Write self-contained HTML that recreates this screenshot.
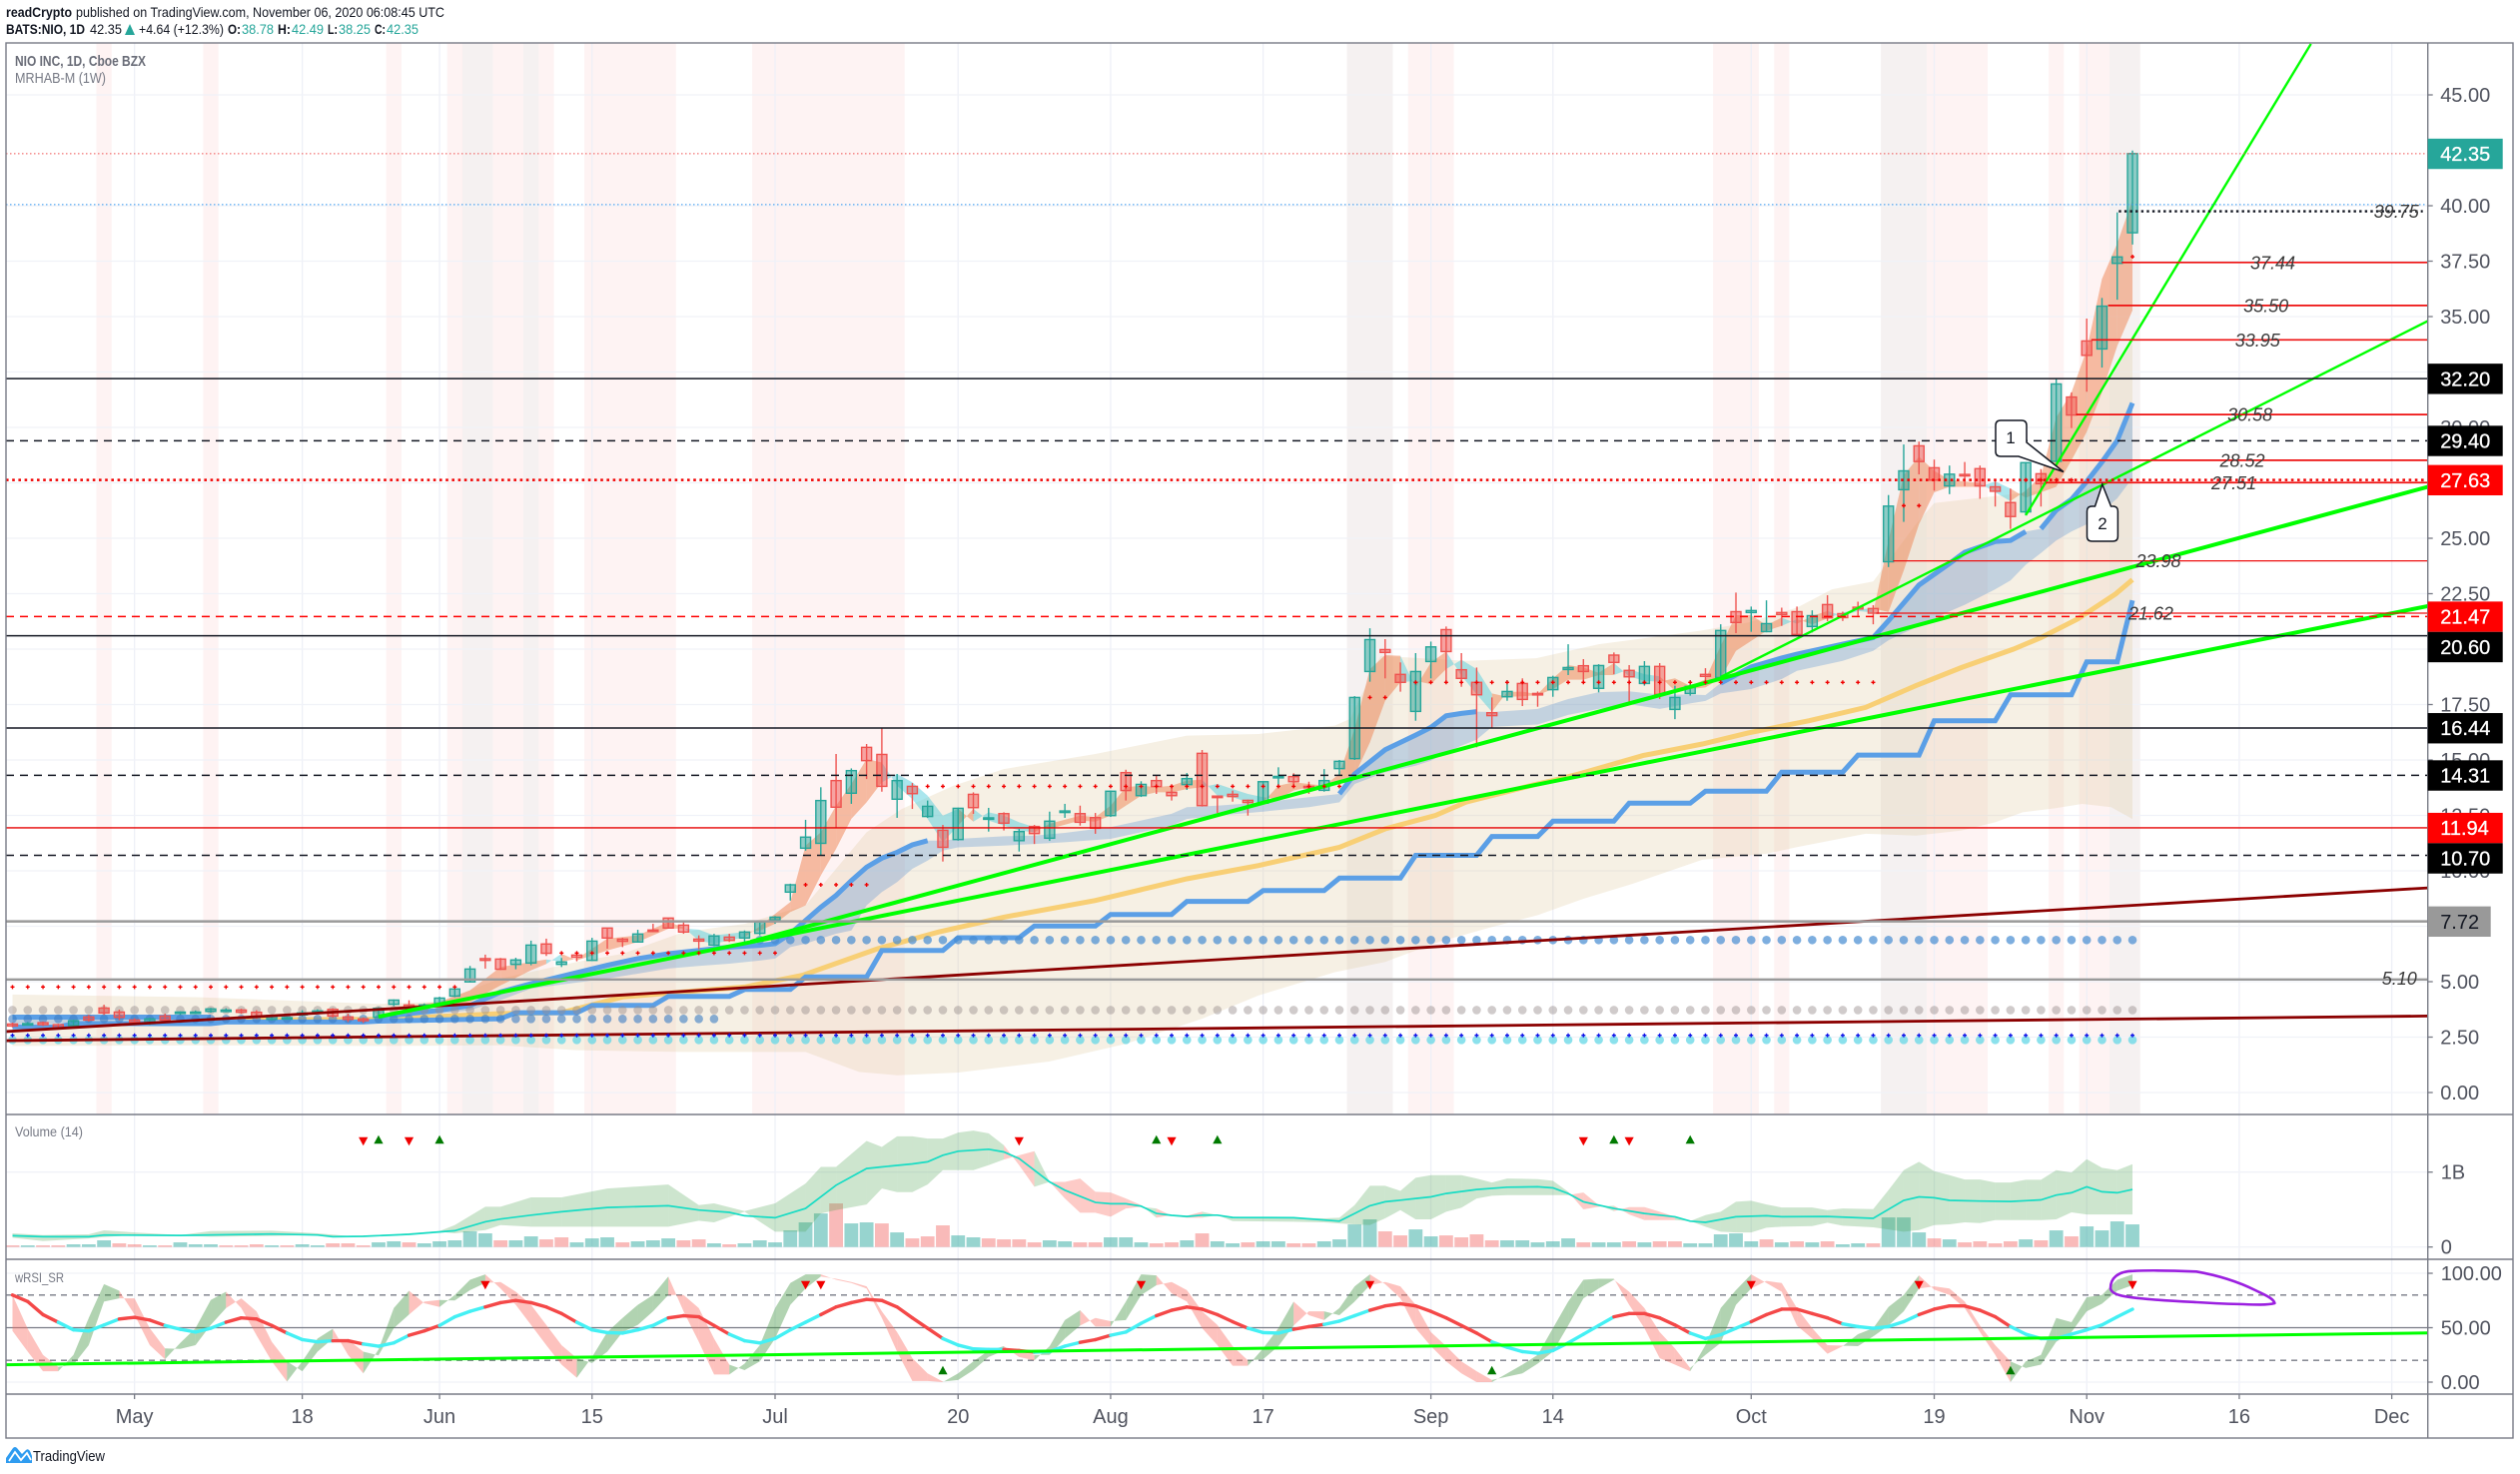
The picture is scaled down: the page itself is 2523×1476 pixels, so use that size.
<!DOCTYPE html>
<html lang="en">
<head>
<meta charset="utf-8">
<title>NIO INC, 1D, Cboe BZX</title>
<style>
html,body{margin:0;padding:0;background:#fff;width:2523px;height:1476px;overflow:hidden}
svg{display:block;font-family:"Liberation Sans",sans-serif}
</style>
</head>
<body>
<svg id="chart" xmlns="http://www.w3.org/2000/svg" width="2523" height="1476" viewBox="0 0 2523 1476">
  <defs>
    <clipPath id="clip-main"><rect x="6" y="43" width="2424.7" height="1073"/></clipPath>
    <clipPath id="clip-vol"><rect x="6" y="1116" width="2424.7" height="145"/></clipPath>
    <clipPath id="clip-rsi"><rect x="6" y="1261" width="2424.7" height="135"/></clipPath>
  </defs>
  <rect x="0" y="0" width="2523" height="1476" fill="#ffffff"/>

  <g font-size="14">
    <text x="6" y="17" font-weight="700" fill="#131722" textLength="66" lengthAdjust="spacingAndGlyphs">readCrypto</text>
    <text x="76" y="17" fill="#131722" textLength="369" lengthAdjust="spacingAndGlyphs">published on TradingView.com, November 06, 2020 06:08:45 UTC</text>
    <text x="6" y="34" font-weight="700" fill="#131722" textLength="79" lengthAdjust="spacingAndGlyphs">BATS:NIO, 1D</text>
    <text x="90" y="34" fill="#131722" textLength="32" lengthAdjust="spacingAndGlyphs">42.35</text>
    <polygon points="125,35 130,24 135,35" fill="#26a69a"/>
    <text x="139" y="34" fill="#131722" textLength="85" lengthAdjust="spacingAndGlyphs">+4.64 (+12.3%)</text>
    <text x="228" y="34" font-weight="700" fill="#131722" textLength="13" lengthAdjust="spacingAndGlyphs">O:</text>
    <text x="242" y="34" fill="#26a69a" textLength="32" lengthAdjust="spacingAndGlyphs">38.78</text>
    <text x="278" y="34" font-weight="700" fill="#131722" textLength="13" lengthAdjust="spacingAndGlyphs">H:</text>
    <text x="292" y="34" fill="#26a69a" textLength="32" lengthAdjust="spacingAndGlyphs">42.49</text>
    <text x="328" y="34" font-weight="700" fill="#131722" textLength="10" lengthAdjust="spacingAndGlyphs">L:</text>
    <text x="339" y="34" fill="#26a69a" textLength="32" lengthAdjust="spacingAndGlyphs">38.25</text>
    <text x="375" y="34" font-weight="700" fill="#131722" textLength="11" lengthAdjust="spacingAndGlyphs">C:</text>
    <text x="387" y="34" fill="#26a69a" textLength="32" lengthAdjust="spacingAndGlyphs">42.35</text>
  </g>

  <g id="g-bands" clip-path="url(#clip-main)"></g>
  <g id="g-grid"></g>

  <g clip-path="url(#clip-main)">
    <g id="g-envelope"></g>
    <g id="g-cloud"></g>
    <g id="g-ribbon"></g>
    <g id="g-ma"></g>
    <g id="g-dots"></g>
    <g id="g-candles"></g>
    <g id="g-trend"></g>
    <g id="g-levels"></g>
    <g id="g-plus"></g>
    <g>
      <path d="M2003,421 H2024 Q2029,421 2029,426 V443 L2066,472.5 L2021,457 H2003 Q1998,457 1998,452 V426 Q1998,421 2003,421 Z" fill="#ffffff" stroke="#131722" stroke-width="1.5"/>
      <text x="2013" y="444" font-size="17" text-anchor="middle" fill="#131722">1</text>
      <path d="M2104.8,485 L2113.5,507 H2115.4 Q2120.4,507 2120.4,512 V537 Q2120.4,542 2115.4,542 H2094.5 Q2089.5,542 2089.5,537 V512 Q2089.5,507 2094.5,507 H2097.5 Z" fill="#ffffff" stroke="#131722" stroke-width="1.5"/>
      <text x="2105" y="530" font-size="17" text-anchor="middle" fill="#131722">2</text>
    </g>
  </g>

  <g clip-path="url(#clip-vol)">
    <g id="g-volbars"></g>
    <g id="g-volband"></g>
    <g id="g-volma"></g>
    <g id="g-volsig"></g>
  </g>

  <g clip-path="url(#clip-rsi)">
    <g id="g-rsiref"></g>
    <g id="g-rsiband"></g>
    <g id="g-rsiline"></g>
    <g id="g-rsitrend"></g>
    <g id="g-rsisig"></g>
    <path d="M2113,1290 C2113,1280 2120,1273 2136,1272.7 C2150,1272 2180,1272.5 2199,1273.3 C2220,1277 2240,1283 2258,1292 C2268,1297 2276,1300 2277.4,1305 C2270,1307 2258,1306.5 2246,1306 C2230,1305.8 2215,1305 2199,1304 C2180,1303 2160,1302 2141,1300 C2128,1298.5 2114,1297 2113,1290 Z" fill="none" stroke="#9b1fe0" stroke-width="2.6" stroke-linejoin="round"/>
  </g>

  <g>
    <text x="15" y="66" font-size="15" font-weight="700" fill="#6a6d78" textLength="131" lengthAdjust="spacingAndGlyphs">NIO INC, 1D, Cboe BZX</text>
    <text x="15" y="83" font-size="15" fill="#787b86" textLength="91" lengthAdjust="spacingAndGlyphs">MRHAB-M (1W)</text>
    <text x="15" y="1138" font-size="14" fill="#787b86" textLength="68" lengthAdjust="spacingAndGlyphs">Volume (14)</text>
    <text x="15" y="1284" font-size="14" fill="#787b86" textLength="49" lengthAdjust="spacingAndGlyphs">wRSI_SR</text>
  </g>

  <g stroke="#787b86" stroke-width="1.4" fill="none">
    <rect x="6" y="43" width="2510" height="1397"/>
    <line x1="6" y1="1116" x2="2516" y2="1116"/>
    <line x1="6" y1="1261" x2="2516" y2="1261"/>
    <line x1="6" y1="1396" x2="2516" y2="1396"/>
    <line x1="2430.7" y1="43" x2="2430.7" y2="1440"/>
  </g>

  <g id="g-xaxis"></g>
  <g id="g-yaxis"></g>
  <g id="g-voly"></g>
  <g id="g-rsiy"></g>
  <g id="g-labels"></g>

  <g>
    <path d="M6,1465 L6,1460 L13,1450 Q15,1448 17,1450 L22,1456 L26,1452 Q28,1450 30,1453 L32,1458 L32,1465 Z" fill="#2f9cf0"/>
    <polyline points="9,1463 15,1454 21,1462 27,1455 31,1462" fill="none" stroke="#ffffff" stroke-width="1.8"/>
    <text x="33" y="1463" font-size="15" fill="#131722" textLength="72" lengthAdjust="spacingAndGlyphs">TradingView</text>
  </g>
</svg>

<script>
/* ---------- chart data ---------- */
const opens=[3.09,3.09,3.15,3.06,3.02,3.41,3.81,3.63,3.27,3.11,
3.45,3.57,3.62,3.66,3.70,3.72,3.62,3.30,3.35,3.50,
3.63,3.75,3.41,3.32,3.39,3.98,3.95,3.81,4.01,4.35,
4.99,6.04,6.02,5.78,5.84,6.70,5.78,6.20,5.96,7.42,
6.92,6.79,7.33,7.87,7.55,6.92,6.65,7.01,6.97,7.18,
7.78,9.04,11.02,11.24,14.07,13.50,15.57,15.25,13.23,13.81,
12.45,11.83,11.41,13.45,12.36,12.58,11.36,12.00,11.47,12.63,
12.58,12.40,12.49,14.43,13.39,14.07,13.54,13.89,15.30,13.37,
13.45,13.18,13.05,14.20,14.25,13.81,13.63,14.61,15.06,18.99,
19.98,18.86,17.19,19.44,20.88,19.07,18.50,17.13,17.85,18.45,
18.00,18.17,19.08,19.25,18.23,19.73,19.04,18.45,19.22,17.28,
18.00,18.86,18.72,21.69,21.65,20.79,21.65,21.69,21.02,22.01,
21.60,21.89,21.83,23.94,27.19,29.17,28.18,27.36,27.88,28.14,
27.32,26.61,26.19,27.91,28.47,31.37,33.90,33.54,37.40,38.78];
const highs=[3.15,3.18,3.20,3.10,3.28,3.50,3.96,3.74,3.35,3.38,
3.56,3.66,3.70,3.82,3.80,3.78,3.71,3.52,3.42,3.71,
3.75,3.80,3.56,3.38,3.85,4.20,4.16,4.02,4.32,4.72,
5.71,6.22,6.07,6.08,6.85,6.94,6.07,6.26,6.98,7.42,
6.98,7.34,7.61,7.87,7.69,7.09,7.16,7.16,7.31,7.76,
7.96,9.42,12.30,13.77,15.27,14.62,15.72,16.43,14.37,13.96,
13.17,12.07,12.85,13.54,12.84,12.64,11.89,12.07,12.67,13.02,
12.94,12.61,13.62,14.56,14.04,14.32,13.77,14.41,15.45,13.39,
13.62,13.21,14.05,14.67,14.40,14.02,14.59,15.00,17.88,20.94,
20.45,19.40,19.82,20.34,21.02,19.82,19.17,17.82,18.60,18.68,
18.09,18.80,20.22,19.55,19.32,19.85,19.28,19.46,19.37,18.35,
18.60,19.14,21.12,22.55,21.92,22.20,21.87,21.92,21.75,22.43,
21.69,22.14,21.98,26.95,29.23,29.36,28.55,28.28,28.44,28.28,
27.64,27.24,28.44,28.12,32.19,31.58,34.91,35.84,39.70,42.49];
const lows=[2.94,3.02,3.00,2.86,2.95,3.20,3.50,3.26,3.05,3.05,
3.18,3.50,3.55,3.60,3.62,3.55,3.33,3.25,3.30,3.43,
3.58,3.38,3.18,3.14,3.36,3.90,3.76,3.76,3.96,4.30,
4.97,5.59,5.53,5.56,5.74,6.16,5.66,5.92,5.93,6.49,
6.56,6.76,7.24,7.39,7.16,6.46,6.61,6.79,6.76,7.09,
7.61,8.66,10.91,10.69,11.92,13.02,14.14,13.57,12.39,12.79,
12.39,10.42,11.36,12.57,11.77,11.82,10.87,11.21,11.35,12.39,
12.04,11.67,12.43,13.17,13.33,13.47,13.17,13.65,12.90,12.61,
13.12,12.49,13.02,13.77,13.77,13.47,13.57,14.29,15.00,18.53,
18.68,18.08,16.77,18.68,18.50,18.30,15.57,16.44,17.67,17.43,
17.40,17.85,18.83,18.47,18.05,18.87,17.59,18.35,17.75,16.84,
17.90,18.38,18.68,20.72,20.78,20.76,21.05,20.60,20.75,21.26,
21.27,21.50,21.12,23.70,25.74,27.88,27.15,26.99,27.35,26.78,
26.43,25.42,26.03,26.43,28.44,29.97,31.61,32.70,35.76,38.25];
const closes=[3.00,3.11,3.06,2.91,3.24,3.27,3.59,3.39,3.17,3.32,
3.27,3.63,3.63,3.77,3.72,3.62,3.44,3.47,3.38,3.59,
3.68,3.45,3.30,3.24,3.80,4.17,3.81,3.95,4.26,4.67,
5.57,5.96,5.56,5.98,6.65,6.28,5.89,6.10,6.83,6.97,
6.82,7.15,7.28,7.42,7.24,6.83,7.06,6.86,7.24,7.69,
7.91,9.37,11.52,13.17,12.87,14.52,14.97,13.81,14.07,13.48,
12.91,11.06,12.82,12.85,12.39,12.15,11.77,11.68,12.24,12.70,
12.19,11.92,13.59,13.62,13.90,13.80,13.39,14.16,12.94,13.33,
13.35,13.08,14.02,14.26,14.02,13.75,14.07,14.94,17.82,20.43,
19.85,18.50,18.99,20.10,19.89,18.68,17.94,17.00,18.09,17.73,
17.94,18.72,19.17,18.99,19.26,19.40,18.75,19.22,17.96,17.82,
18.32,18.77,20.84,21.20,21.74,21.15,21.56,20.66,21.51,21.41,
21.42,21.81,21.62,26.45,28.04,28.46,27.62,27.89,27.81,27.36,
27.12,25.98,28.41,27.46,31.96,30.56,33.25,35.47,37.69,42.35];

const volumes=[22,22,22,22,36,36,89,49,36,22,
22,62,36,36,22,22,36,22,22,36,
22,49,49,22,62,76,62,49,76,89,
209,182,89,89,142,102,129,62,115,129,
62,76,89,115,89,102,49,36,49,89,
62,222,329,448,582,315,329,315,195,115,
142,289,155,129,115,102,102,62,89,76,
62,62,129,129,62,49,62,89,182,76,
49,62,76,76,49,49,76,102,302,369,
209,155,235,142,155,129,169,89,89,89,
62,76,115,62,62,62,76,62,76,76,
49,49,169,182,76,102,62,76,62,76,
36,49,49,395,395,195,115,102,62,76,
49,76,102,89,222,142,275,222,342,302];
const volDir=[-1,1,-1,-1,1,1,1,-1,-1,1,
-1,1,1,1,-1,-1,-1,1,-1,1,
1,-1,-1,-1,1,1,-1,1,1,1,
1,1,-1,1,1,-1,-1,1,1,1,
-1,1,1,1,-1,-1,1,-1,1,1,
1,1,1,1,-1,1,1,-1,1,-1,
-1,-1,1,1,-1,-1,-1,-1,1,1,
-1,-1,1,1,1,-1,-1,1,-1,1,
1,-1,1,1,-1,-1,1,1,1,1,
-1,-1,1,1,-1,-1,-1,-1,1,1,
1,1,1,-1,1,1,-1,1,-1,-1,
1,1,1,1,1,-1,1,-1,1,-1,
1,1,-1,1,1,1,-1,1,-1,-1,
-1,-1,1,-1,1,-1,1,1,1,1];

const volBandBars=[0,2,5,6,8,11,13,17,20,22,25,28,29,31,32,34,36,39,43,45,46,48,50,52,53,54,56,57,58,59,60,61,62,63,64,65,66,67,68,69,70,71,72,73,74,75,76,77,78,79,80,84,86,87,88,89,90,91,92,93,94,95,96,97,98,100,101,102,103,104,105,106,107,108,109,110,111,112,113,114,115,116,118,119,120,122,123,124,125,126,127,128,129,130,131,132,133,134,135,136,137,138,139];
const volFast=[182,160,169,222,195,160,213,218,182,147,169,213,293,537,537,662,662,781,835,559,582,480,582,848,1070,1070,1416,1336,1478,1478,1447,1447,1527,1554,1518,1359,1092,804,870,648,457,457,404,515,537,515,417,391,391,426,404,391,382,391,559,817,817,750,924,959,959,959,915,861,915,906,884,737,502,537,551,435,360,360,360,346,426,471,604,617,568,528,528,493,515,506,759,1026,1137,1012,959,901,901,861,861,897,897,1026,995,1172,1057,1026,1106];
const volSlow=[124,80,115,133,160,151,138,147,160,138,151,204,182,226,293,271,271,271,271,351,329,471,204,204,448,493,568,781,733,733,835,1026,1026,1026,1092,1168,1225,1279,870,870,915,737,728,648,559,391,426,417,471,426,346,337,329,315,302,293,382,493,369,369,471,524,648,684,693,693,693,693,728,559,480,533,533,471,404,346,271,204,195,195,258,271,280,324,284,262,235,204,226,293,302,329,320,360,360,360,360,369,462,435,435,435,435];
const volMaBars=[0,2,5,6,11,17,20,21,23,26,29,31,32,34,36,39,43,45,47,48,50,52,54,56,57,59,60,61,62,64,65,66,67,68,69,71,72,73,74,75,76,77,78,79,80,84,87,88,89,90,91,92,93,94,96,98,100,101,102,103,105,107,109,110,111,113,115,116,119,122,124,125,126,127,129,131,133,134,135,136,137,138,139];
const volMa=[151,138,138,160,155,173,160,138,142,169,218,337,373,426,471,528,551,493,462,417,391,515,826,1048,1070,1110,1137,1225,1279,1305,1270,1181,1026,870,759,595,577,577,546,448,422,408,426,426,395,391,346,448,551,604,626,648,670,715,768,799,804,790,715,604,515,448,404,346,329,404,417,404,408,382,622,670,657,622,613,608,630,693,724,804,737,724,768];

const rsiFast=[47,28,10,10,25,59,90,84,62,34,21,36,49.5,75.5,83,68,43,19,0.5,19,40,49,25,8,30,68,84,72.5,69,80,94,99,86,71,52.5,34,16,4,23,46,59,71,80,97,65,37,7,7,17,34,68,91,99,99,94,91,86,59,28,1,1,0,8,19,29,33,23,20,33,57,66,51,51,74,99,98,81.5,74,49.5,34,15,15,31,49.5,74,61.5,57,68,88,99,90,77,49.5,33,19,8,0,0,8,16,25,49.5,74,94,95,95,71,49.5,22,16,10,34,68,84.5,99,91,83,52,40,26,33,44,49.5,69,80,98,85,80,68,46,25,0,19,25,59,55,78,80,94,99];
const rsiSlow=[80,49,25,14,16,34,74,77,77,49.5,31,30.5,34,52.5,68,77,65,37,19,10,28,40,39,28,24.5,49.5,62,74,75.5,75,84.5,91,92,83,71,52.5,34,22,17.5,28,46,52.5,65,80,80,68,40,16,11,19,40,71,86,97,95,92,88,65,46,22,8,0.5,2,11,23,29,28,25,25,40,52,59,56,57,80,89,92,84.5,65,52.5,33,20,21,33,52,65,65,61.5,74,89,92,88,71,46,33,19,10,2,5,8,17,28,52,77,86,94,83,68,46,31,13,25,36,71,86,93,91,68,49.5,34,33.5,33,42,52,65,86,88,86,74,52,34,19,13,16,37,46,65,72,84,89];
const rsiSmooth=[80,74,62,55,48,47,52.5,58,59.5,57,
52,48.5,46,49.5,55,59,58,52,45,39,
37,38,38,35,33,36,43,47,52,60,
65,69,73,75,73,69,63,55,48,45.5,
45,48,52,59,61,60,52,44,38,36,
40,48,55,62,69,73,76,75,69,59,
49.5,40,34,30.5,30,30,29,27.5,28,33,
36.5,39,43,46,54,61,66,69,67,62,
55.5,49.5,45.5,45,48.5,51,53,56,61,66,
70,72,70,65,59,52,45,37,32,28,
26.5,29,36,44,52,60,63,63,59,52.5,
45,40,43.5,49.5,55.5,62,67,67,63,59,
53.5,51,49.5,51,55.5,62,67,70,70,66,
60,51,44,40,40,44,48,52.5,60,67];
const rsiRedStarts=[0,7,14,21,26,31,43,53,65,70,75,84,89,105,114,125];
const rsiRedEnds=[3,10,18,23,28,37,47,61,67,72,81,86,97,110,120,131];
const rsiSellBars=[31,52,53,74,89,114,125,139];
const rsiBuyBars=[61,97,131];
const volSellBars=[23,26,66,76,103,106];
const volBuyBars=[24,28,75,79,105,110];

const cloudBars=[25,28,30,32,34,35,36,37,39,41,43,44,45,46,48,49,50,51,52,53,54,55,56,57,58,59,60,61,62,63,64,65,66,67,68,70,71,72,73,74,75,76,77,78,79,80,81,82,83,84,85,86,87,88,89,90,91,92,93,94,95,96,97,98,99,100,101,102,103,104,105,106,107,108,109,110,111,112,113,114,115,116,117,118,119,120,121,122,123,124,125,126,127,128,129,130,131,132,133,134,135,136,137,138,139];
const cloudFast=[3.86,4.08,4.61,5.66,5.89,6.0,5.9,6.03,6.94,7.09,7.69,7.45,6.85,6.71,7.01,7.5,8.06,8.59,11.14,11.74,12.94,13.92,15.04,14.89,13.84,13.24,12.34,11.29,12.04,12.79,12.27,12.04,11.82,11.74,12.12,12.49,12.42,12.94,13.77,13.84,13.77,13.84,14.07,14.11,13.39,13.32,13.09,13.09,13.84,13.99,13.92,13.84,14.37,16.4,19.1,19.73,19.7,18.27,19.4,19.89,18.8,17.97,17.17,18.07,18.08,17.97,18.68,19.28,19.17,18.93,19.37,18.77,18.57,18.53,18.68,18.34,18.64,20.15,21.53,21.53,21.08,21.42,21.14,21.5,21.72,21.5,21.72,21.65,24.9,27.85,28.68,28.04,27.64,27.56,27.48,27.07,26.67,27.15,27.8,30.45,31.58,33.5,36.7,38.3,40.27];
const cloudSlow=[3.75,3.86,4.08,4.83,5.51,5.8,6.26,5.96,6.41,6.79,7.39,7.4,7.35,7.09,7.24,7.3,7.61,8.14,8.44,9.79,10.99,12.34,13.09,13.99,14.37,13.99,13.39,12.49,12.79,12.22,12.64,12.49,12.19,11.97,11.89,12.27,12.22,12.49,12.94,13.39,13.54,13.54,13.69,13.77,13.92,13.69,13.47,13.32,13.24,13.62,13.77,13.69,13.99,14.3,15.79,17.67,18.5,18.57,18.42,19.1,19.52,19.1,18.0,17.85,17.87,17.93,18.2,18.62,18.62,18.83,18.83,19.1,18.87,18.77,18.12,18.2,18.27,18.68,19.92,20.37,20.82,21.05,21.35,21.12,21.38,21.65,21.8,21.83,21.68,23.54,25.63,27.07,27.32,27.32,27.32,27.56,27.24,26.83,27.07,27.32,28.52,29.8,31.58,33.67,35.28];

const ribbonBars=[0,13,24,28,30,32,34,39,41,43,45,47,49,50,51,52,53,54,55,56,57,58,59,60,61,62,65,67,69,72,74,76,77,79,82,85,87,88,90,92,93,94,95,96,97,100,102,104,106,108,110,111,112,114,116,117,120,122,123,125,127,128,130,131,132,133,134,135,136,137,138,139];
const ribbonTop=[3.4,3.4,3.41,3.71,3.93,4.53,4.91,5.74,6.04,6.26,6.41,6.56,6.64,6.71,7.16,7.76,8.36,8.89,9.56,10.16,10.57,10.84,11.17,11.36,11.36,11.44,11.56,11.59,11.71,11.97,12.27,12.57,12.87,12.94,13.09,13.32,13.47,14.37,15.46,16.12,16.47,16.99,17.1,17.18,17.16,17.3,17.75,18.06,18.1,17.95,17.95,17.93,18.47,19.2,19.6,19.77,20.22,20.52,21.28,22.89,23.86,24.37,24.85,24.9,25.3,25.43,26.27,26.75,27.56,28.44,29.41,31.1];
const ribbonBottom=[3.1,3.15,3.3,3.56,3.71,4.16,4.69,5.14,5.36,5.59,5.71,5.81,5.95,6.04,6.56,6.71,6.94,7.16,7.31,8.44,9.04,9.49,10.09,10.46,10.91,11.06,11.14,11.21,11.29,11.44,11.74,12.04,12.34,12.49,12.67,12.87,13.09,13.92,14.44,14.74,14.97,15.34,15.64,15.92,16.49,16.6,17.03,17.3,17.52,17.3,17.55,17.66,18.0,18.2,18.65,19.02,19.47,19.92,20.4,21.05,21.7,22.0,22.7,23.1,23.8,24.34,24.9,25.3,25.63,26.2,26.8,27.72];
const ribbonLineStarts=[0,24,87,112,133];
const ribbonLineEnds=[13,60,96,132,139];

const envUpperBars=[0,12,24,28,32,37,40,44,48,52,56,58.3,61.7,65,71,77,81.7,86.7,87.7,89.7,95.3,99.9,104,110.6,113.8,117,119.3,122,124.8,126,130,133,134,137,139];
const envUpper=[4.42,4.3,4.0,4.1,5.14,5.89,6.26,7.24,7.61,8.44,11.74,12.79,13.84,14.59,15.27,16.1,16.17,16.55,16.85,19.7,19.47,19.59,20.22,20.82,21.2,21.87,22.7,23.05,25.63,26.59,26.9,27.15,28.52,31.58,33.83];
const envLowerBars=[0,12,24,32,37,44,52,55.5,58,62,68,73,78,81.7,86.7,90,93.5,97,100,103,106.2,110.8,115,117,121.5,124.8,127.8,130,131.8,133.9,135.7,137.6,139];
const envLower=[2.1,2.13,2.1,2.13,1.91,1.83,1.83,0.93,0.78,0.9,1.4,2.2,3.33,4.38,5.43,5.89,6.79,7.47,8.0,8.74,9.41,10.5,10.77,11.07,11.67,11.59,11.82,12.19,12.64,12.82,13.02,12.87,12.34];

const emaSlowBars=[13,24,32,36,40,44,48,51.8,56.7,60.7,65,71,77,81.7,87,90,93.3,95.3,99.7,101,102.7,106.9,110.8,113.8,117.8,121.5,124.8,127.8,131.2,133,135.4,137.9,139];
const emaSlowVals=[3.26,3.3,3.56,3.6,4.31,4.54,4.76,5.29,6.48,7.24,7.91,8.66,9.64,10.24,11.06,11.89,12.5,13.1,13.87,14.07,14.37,15.2,15.72,16.22,16.77,17.37,18.35,19.17,20.0,20.52,21.36,22.49,23.13];
const weeklyBars=[0,3,4,13,14,23,24,32,33,37,38,42,43,47,48,51,52,56,57,61,62,66,67,71,72,76,77,81,82,86,87,91,92,96,97,100,101,105,106,110,111,115,116,120,121,125,126,130,131,135,136,138,139];
const weeklyVals=[2.96,2.96,3.11,3.11,3.18,3.18,3.22,3.33,3.6,3.6,3.93,3.93,4.34,4.34,4.65,4.65,5.21,5.21,6.41,6.41,6.98,6.98,7.51,7.51,8.03,8.03,8.62,8.62,9.11,9.11,9.67,9.67,10.7,10.7,11.55,11.55,12.24,12.24,13.05,13.05,13.59,13.59,14.45,14.45,15.22,15.22,16.77,16.77,17.94,17.94,19.43,19.43,22.2];

const dotLevels=[6.88,3.72,3.32,2.37];
const dotStartBars=[49,0,0,0];
const dotEndBars=[139,139,46,139];
const bluePlusLevel=2.58;
const stopPrices=[4.76,6.29,9.37,13.81,17.82,18.5,26.47,27.63,37.7];
const stopStartBars=[0,36,52,60,89,92,124,132,139];
const stopEndBars=[29,50,56,87,90,122,125,135,139];

const trendStartBars=[24,48.4,112,132];
const trendStartPrices=[3.42,6.8,18.74,26.04];
const trendEndBars=[158.36,158.36,158.36,150.7];
const trendEndPrices=[21.94,27.32,34.8,47.3];
const longStartBars=[-0.43,-0.43];
const longStartPrices=[2.75,2.34];
const longEndBars=[158.36,158.36];
const longEndPrices=[9.23,3.45];
const rsiTrendBars=[-0.43,158.36];
const rsiTrendVals=[15.9,45.2];

const levelPrices=[42.35,40.05,32.20,29.40,27.63,21.47,20.60,16.44,14.31,11.94,10.70,7.72,5.10];
const levelKinds=['thinRedDot','thinBlueDot','black','blackDash','redDot','redDash','black','black','blackDash','red','blackDash','grey','grey'];
const priceLabels=[42.35,32.20,29.40,27.63,21.47,20.60,16.44,14.31,11.94,10.70,7.72];
const priceLabelKinds=['teal','black','black','red','red','black','black','black','red','black','grey'];
const segmentPrices=[37.44,35.50,33.95,30.58,28.52,27.51,23.98,21.62];
const segmentStartBars=[138.3,137.4,136.3,135.3,134.4,133.3,123.3,122.2];
const segmentLabelBars=[148.2,147.75,147.2,146.7,146.2,145.65,140.7,140.2];
const targetPrice=39.75, targetStartBar=138.1, targetLabelBar=156.3;
const baseLabelPrice=5.10, baseLabelBar=156.5;

const bandStartBars=[6,13,25,29,38,49,88,92,112,116,123,134,136];
const bandEndBars=[6,13,25,35,43,58,90,94,114,116,129,134,139];
const greyStartBars=[30,34,88,123,138];
const greyEndBars=[31,34,90,125,139];

const timeTickBars=[8,19,28,38,50,62,72,82,93,101,114,126,136,146,156];
const timeTickLabels=['May','18','Jun','15','Jul','20','Aug','17','Sep','14','Oct','19','Nov','16','Dec'];
const priceTicks=[45,40,37.5,35,32.5,30,27.5,25,22.5,20,17.5,15,12.5,10,7.5,5,2.5,0];
const volTicks=[1000,0];
const volTickLabels=['1B','0'];
const rsiTicks=[100,50,0];
const rsiDashed=[80,20];

/* ---------- axis functions ---------- */
const barStep=15.27;
const axisX=2430.7;
function xBar(i){return 12.5+i*barStep;}
function yPrice(p){return 1094-p*22.2;}
function yVol(v){return 1248.7-v*0.075;}
function yRsi(r){return 1384-r*1.09;}

const NS='http://www.w3.org/2000/svg';
function mk(tag,parent,attrs){
  const e=document.createElementNS(NS,tag);
  for(const k in attrs){e.setAttribute(k,attrs[k]);}
  parent.appendChild(e);
  return e;
}
const $=id=>document.getElementById(id);
function pts(xs,ys,fx,fy){return xs.map((x,i)=>fx(x).toFixed(1)+','+fy(ys[i]).toFixed(1)).join(' ');}

/* highlight bands */
bandStartBars.forEach((s,k)=>{
  const r=mk('rect',$('g-bands'),{x:xBar(s)-barStep/2,y:43,width:(bandEndBars[k]-s+1)*barStep,height:1073,fill:'rgba(240,40,30,0.055)'});
  
  
});
greyStartBars.forEach((s,k)=>{
  const r=mk('rect',$('g-bands'),{x:xBar(s)-barStep/2,y:43,width:(greyEndBars[k]-s+1)*barStep,height:1073,fill:'#f5f1f1'});
  
  
});

/* grid */
timeTickBars.forEach(b=>{
  const l=mk('line',$('g-grid'),{x1:xBar(b),x2:xBar(b),y1:43,y2:1396,stroke:'#eef0f7','stroke-width':1.3});
  
  
});
priceTicks.forEach(p=>{
  const l=mk('line',$('g-grid'),{x1:6,x2:axisX,y1:yPrice(p),y2:yPrice(p),stroke:'#f0f2f8','stroke-width':1.3});
  
  
});
volTicks.forEach(v=>{
  const l=mk('line',$('g-grid'),{x1:6,x2:axisX,y1:yVol(v),y2:yVol(v),stroke:'#f0f2f8','stroke-width':1.3});
  
  
});
[100,0].forEach(v=>{
  const l=mk('line',$('g-grid'),{x1:6,x2:axisX,y1:yRsi(v),y2:yRsi(v),stroke:'#f0f2f8','stroke-width':1.3});
  
  
});

/* envelope */
{
  const up=pts(envUpperBars,envUpper,xBar,yPrice);
  const lo=envLowerBars.slice().reverse().map((b,i)=>xBar(b).toFixed(1)+','+yPrice(envLower[envLower.length-1-i]).toFixed(1)).join(' ');
  const e=mk('polygon',$('g-envelope'),{points:up+' '+lo,fill:'rgba(223,199,155,0.27)'});
  
  
}

/* ribbon helper: one quad per segment, coloured by which series leads */
function quads(group,bars,a,b,fy,upFill,dnFill,name){
  for(let i=0;i<bars.length-1;i++){
    const x0=xBar(bars[i]),x1=xBar(bars[i+1]);
    const up=a[i+1]>=b[i+1];
    const q=mk('polygon',group,{points:[x0+','+fy(a[i]),x1+','+fy(a[i+1]),x1+','+fy(b[i+1]),x0+','+fy(b[i])].join(' '),fill:up?upFill:dnFill});
    
    
  }
}

/* EMA cloud */
quads($('g-cloud'),cloudBars,cloudFast,cloudSlow,yPrice,'rgba(238,130,80,0.5)','rgba(85,205,222,0.5)','cloud-segment');

/* blue ribbon */
{
  const up=pts(ribbonBars,ribbonTop,xBar,yPrice);
  const lo=ribbonBars.slice().reverse().map((b,i)=>xBar(b).toFixed(1)+','+yPrice(ribbonBottom[ribbonBottom.length-1-i]).toFixed(1)).join(' ');
  const f=mk('polygon',$('g-ribbon'),{points:up+' '+lo,fill:'rgba(60,130,210,0.27)'});
  
  
}

/* moving averages */
{
  const o=mk('polyline',$('g-ma'),{points:pts(emaSlowBars,emaSlowVals,xBar,yPrice),fill:'none',stroke:'#f8cf75','stroke-width':5});
  
  
  const w=mk('polyline',$('g-ma'),{points:pts(weeklyBars,weeklyVals,xBar,yPrice),fill:'none',stroke:'#5b9fe6','stroke-width':5});
  
  
  ribbonLineStarts.forEach((s,k)=>{
    const xs=[],ys=[];
    ribbonBars.forEach((b,i)=>{if(b>=s&&b<=ribbonLineEnds[k]){xs.push(b);ys.push(ribbonTop[i]);}});
    const l=mk('polyline',$('g-ma'),{points:pts(xs,ys,xBar,yPrice),fill:'none',stroke:'#5b9fe6','stroke-width':5});
    
    
  });
}

/* dots */
const dotFills=['rgba(70,140,210,0.7)','rgba(150,140,140,0.45)','rgba(60,125,195,0.6)','rgba(100,215,230,0.75)'];
dotLevels.forEach((lv,k)=>{
  for(let i=dotStartBars[k];i<=dotEndBars[k];i++){
    const c=mk('circle',$('g-dots'),{cx:xBar(i),cy:yPrice(lv),r:4.3,fill:dotFills[k]});
    
    
  }
});
function plus(group,x,y,color,name){
  const p=mk('path',group,{d:'M'+(x-2)+','+y+'H'+(x+2)+'M'+x+','+(y-2)+'V'+(y+2),stroke:color,'stroke-width':1.4,fill:'none'});
  
  
}
for(let i=0;i<140;i++){plus($('g-plus'),xBar(i),yPrice(bluePlusLevel),'#1212e8','blue-plus-marker');}

/* candles */
opens.forEach((o,i)=>{
  const c=closes[i],up=c>=o,col=up?'#26a69a':'#ef5350',x=xBar(i);
  const w=mk('line',$('g-candles'),{x1:x,x2:x,y1:yPrice(highs[i]),y2:yPrice(lows[i]),stroke:col,'stroke-width':1.4});
  
  
  const top=yPrice(Math.max(o,c)),bot=yPrice(Math.min(o,c));
  const b=mk('rect',$('g-candles'),{x:x-5,y:top,width:10,height:Math.max(bot-top,1.5),fill:up?'rgba(38,166,154,0.5)':'rgba(239,83,80,0.5)',stroke:col,'stroke-width':1.4});
  
  
});

/* long dark-red lines */
longStartBars.forEach((s,k)=>{
  const l=mk('line',$('g-trend'),{x1:xBar(s),y1:yPrice(longStartPrices[k]),x2:xBar(longEndBars[k]),y2:yPrice(longEndPrices[k]),stroke:'#8b0000','stroke-width':2.8});
  
  
});
/* green trend lines */
const trendWidths=[4,4,2.4,2.4];
trendStartBars.forEach((s,k)=>{
  const l=mk('line',$('g-trend'),{x1:xBar(s),y1:yPrice(trendStartPrices[k]),x2:xBar(trendEndBars[k]),y2:yPrice(trendEndPrices[k]),stroke:'#00ff00','stroke-width':trendWidths[k]});
  
  
});

/* horizontal levels */
const levelStyle={
  black:{stroke:'#131722',w:1.5},
  blackDash:{stroke:'#131722',w:1.5,dash:'8 6'},
  red:{stroke:'#e60000',w:1.4},
  redDash:{stroke:'#ff0000',w:1.5,dash:'8 6'},
  redDot:{stroke:'#f00000',w:2.6,dash:'2.6 3.6'},
  thinRedDot:{stroke:'#f05050',w:1,dash:'1.5 2.5'},
  thinBlueDot:{stroke:'#2f95f0',w:1,dash:'1.5 2.5'},
  grey:{stroke:'#9a9a9a',w:2.4}
};
levelPrices.forEach((p,k)=>{
  const s=levelStyle[levelKinds[k]];
  const a={x1:6,x2:axisX,y1:yPrice(p),y2:yPrice(p),stroke:s.stroke,'stroke-width':s.w};
  if(s.dash){a['stroke-dasharray']=s.dash;}
  const l=mk('line',$('g-levels'),a);
  
  
});
segmentPrices.forEach((p,k)=>{
  const l=mk('line',$('g-levels'),{x1:xBar(segmentStartBars[k]),x2:axisX,y1:yPrice(p),y2:yPrice(p),stroke:'#ee1111','stroke-width':k>5?1.3:1.7});
  
  
  const t=mk('text',$('g-levels'),{x:xBar(segmentLabelBars[k]),y:yPrice(p)+6.5,'text-anchor':'middle','font-size':18,'font-style':'italic',fill:'#3a3a3a'});
  
  
  t.textContent=p.toFixed(2);
});
{
  const l=mk('line',$('g-levels'),{x1:xBar(targetStartBar),x2:axisX-5,y1:yPrice(targetPrice),y2:yPrice(targetPrice),stroke:'#131722','stroke-width':2.4,'stroke-dasharray':'2.4 3.2'});
  
  
  const t=mk('text',$('g-levels'),{x:xBar(targetLabelBar),y:yPrice(targetPrice)+6.5,'text-anchor':'middle','font-size':18,'font-style':'italic',fill:'#3a3a3a'});
  
  
  t.textContent=targetPrice.toFixed(2);
  const u=mk('text',$('g-levels'),{x:xBar(baseLabelBar),y:yPrice(baseLabelPrice)+5,'text-anchor':'middle','font-size':18,'font-style':'italic',fill:'#3a3a3a'});
  
  
  u.textContent=baseLabelPrice.toFixed(2);
}

/* red stop markers */
stopPrices.forEach((p,k)=>{
  for(let i=stopStartBars[k];i<=stopEndBars[k];i++){plus($('g-plus'),xBar(i),yPrice(p),'#f00000','stop-marker');}
});

/* volume */
volumes.forEach((v,i)=>{
  const y=yVol(v);
  const r=mk('rect',$('g-volbars'),{x:xBar(i)-6.9,y:y,width:13.8,height:yVol(0)-y,fill:volDir[i]>0?'rgba(38,166,154,0.48)':'rgba(239,83,80,0.4)'});
  
  
});
quads($('g-volband'),volBandBars,volFast,volSlow,yVol,'rgba(76,160,80,0.28)','rgba(250,110,100,0.36)','volume-band-segment');
{
  const m=mk('polyline',$('g-volma'),{points:pts(volMaBars,volMa,xBar,yVol),fill:'none',stroke:'#18dcc4','stroke-width':1.7});
  
  
}
function tri(group,x,y,down,col,name){
  const d=down?[x-4.6,y-4.2,x+4.6,y-4.2,x,y+4.2]:[x-4.6,y+4.2,x+4.6,y+4.2,x,y-4.2];
  const t=mk('polygon',group,{points:d[0]+','+d[1]+' '+d[2]+','+d[3]+' '+d[4]+','+d[5],fill:col});
  
  
}
volSellBars.forEach(b=>tri($('g-volsig'),xBar(b),1143,true,'#f00000','volume-sell-signal'));
volBuyBars.forEach(b=>tri($('g-volsig'),xBar(b),1141,false,'#007a00','volume-buy-signal'));

/* RSI */
rsiTicks.concat(rsiDashed).forEach(v=>{
  if(v===100||v===0){return;}
  const a={x1:6,x2:axisX,y1:yRsi(v),y2:yRsi(v),stroke:'#787b86','stroke-width':1.3};
  if(v!==50){a['stroke-dasharray']='6 5';}
  const l=mk('line',$('g-rsiref'),a);
  
  
});
quads($('g-rsiband'),rsiFast.map((_,i)=>i),rsiFast,rsiSlow,yRsi,'rgba(70,150,70,0.42)','rgba(250,110,100,0.42)','rsi-ribbon-segment');
function inRed(i){return rsiRedStarts.some((s,k)=>i>=s&&i<=rsiRedEnds[k]);}
for(let i=0;i<rsiSmooth.length-1;i++){
  const red=inRed(i)&&inRed(i+1);
  const l=mk('line',$('g-rsiline'),{x1:xBar(i),y1:yRsi(rsiSmooth[i]),x2:xBar(i+1),y2:yRsi(rsiSmooth[i+1]),stroke:red?'#f44848':'#44f0f4','stroke-width':3.4,'stroke-linecap':'round'});
  
  
}
{
  const h=mk('line',$('g-rsitrend'),{x1:xBar(rsiTrendBars[0]),y1:yRsi(rsiTrendVals[0]),x2:xBar(rsiTrendBars[1]),y2:yRsi(rsiTrendVals[1]),stroke:'#00ff00','stroke-width':3});
  
  
}
rsiSellBars.forEach(b=>tri($('g-rsisig'),xBar(b),1287,true,'#f00000','rsi-sell-signal'));
rsiBuyBars.forEach(b=>tri($('g-rsisig'),xBar(b),1372,false,'#007a00','rsi-buy-signal'));

/* time axis */
timeTickBars.forEach((b,k)=>{
  const x=xBar(b);
  const l=mk('line',$('g-xaxis'),{x1:x,x2:x,y1:1396,y2:1401,stroke:'#787b86','stroke-width':1.3});
  
  
  const t=mk('text',$('g-xaxis'),{x:x,y:1425,'text-anchor':'middle','font-size':20,fill:'#50535e'});
  
  
  t.textContent=timeTickLabels[k];
});

/* price axis */
priceTicks.forEach(p=>{
  const y=yPrice(p);
  const l=mk('line',$('g-yaxis'),{x1:axisX,x2:axisX+5,y1:y,y2:y,stroke:'#787b86','stroke-width':1.3});
  
  
  const t=mk('text',$('g-yaxis'),{x:axisX+12.5,y:y+7,'font-size':20,fill:'#50535e'});
  
  
  t.textContent=p.toFixed(2);
});
volTicks.forEach((v,k)=>{
  const y=yVol(v);
  const l=mk('line',$('g-voly'),{x1:axisX,x2:axisX+5,y1:y,y2:y,stroke:'#787b86','stroke-width':1.3});
  
  
  const t=mk('text',$('g-voly'),{x:axisX+13,y:y+7,'font-size':20,fill:'#50535e'});
  
  
  t.textContent=volTickLabels[k];
});
rsiTicks.forEach(v=>{
  const y=yRsi(v);
  const l=mk('line',$('g-rsiy'),{x1:axisX,x2:axisX+5,y1:y,y2:y,stroke:'#787b86','stroke-width':1.3});
  
  
  const t=mk('text',$('g-rsiy'),{x:axisX+13,y:y+7,'font-size':20,fill:'#50535e'});
  
  
  t.textContent=v.toFixed(2);
});

/* price labels, pushed down when they would overlap */
const labelFill={teal:'#26a69a',black:'#000000',red:'#ff0000',grey:'#999999'};
let lastBottom=-1;
priceLabels.forEach((p,k)=>{
  let top=yPrice(p)-15;
  if(top<lastBottom){top=lastBottom;}
  lastBottom=top+30.4;
  const kind=priceLabelKinds[k];
  const r=mk('rect',$('g-labels'),{x:axisX,y:top,width:kind==='grey'?63:75,height:30.4,fill:labelFill[kind]});
  
  
  const t=mk('text',$('g-labels'),{x:axisX+12.5,y:top+22.2,'font-size':20,fill:kind==='grey'?'#131722':'#ffffff',stroke:kind==='grey'?'none':'#ffffff','stroke-width':0.3});
  
  
  t.textContent=p.toFixed(2);
});
</script>
</body>
</html>
